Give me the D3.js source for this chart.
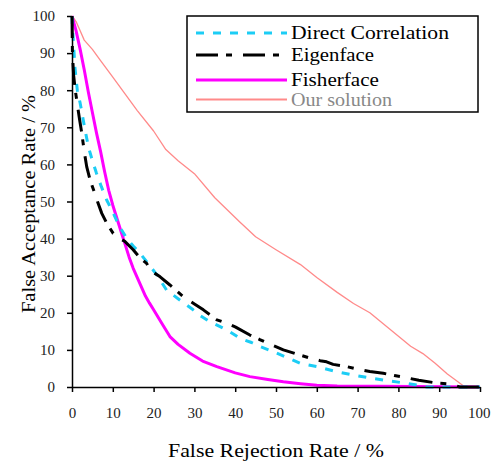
<!DOCTYPE html>
<html><head><meta charset="utf-8">
<script src="https://cdn.jsdelivr.net/npm/d3@7"></script>
<style>body{margin:0;background:#fff}svg{display:block}
svg text{font-family:"Liberation Serif","Tinos","Times New Roman","DejaVu Serif","Noto Serif",serif;}</style>
</head><body>
<svg id="c" width="491" height="463"></svg>
<script>
const xTicks = [0,10,20,30,40,50,60,70,80,90,100];
const yTicks = [0,10,20,30,40,50,60,70,80,90,100];
const seriesNames = ["Direct Correlation","Eigenface","Fisherface","Our solution"];

const directX = [0,0.1,0.3,0.7,1.3,2,3,4,5,6,7.2,8.5,9.7,10.9,12,13.4,15,16.7,18.5,20.8,23.2,26,29.7,31.5,33.8,37.9,41.2,44,46.1,50,55.9,60,64.9,70,73.8,78,82,85.3,87,100];
const directY = [100,97,94,86.3,80,76.5,70.5,64.8,61,57.6,54,50.4,47.8,45,42.6,40.1,38,36,33.5,30.2,26.1,23.8,20.8,19.2,17.6,15.4,13.1,12,10.9,9.2,6.4,5.5,4.1,3,2.3,1.6,1,0.4,0,0];

const eigenX = [0,0.1,0.4,0.8,1.15,1.8,2.4,3,3.6,4.5,5.6,6.4,7.3,8.5,10.1,11.5,13,15,16.5,18.3,19.1,21.6,24,27.3,30,32.2,35.5,37.9,40,43.6,46,48,51.8,55,58,60.8,62.4,64,67.3,70,73,76.3,79,82,85,88.6,90,92.6,94,95,100];
const eigenY = [100,90,84,80,77.4,72.5,68.4,63.5,59.4,55.5,52.2,49.5,46.8,44.2,41.4,40.2,39.2,37,35,33.3,31.5,29.7,27.5,24.3,22.4,20.8,18.1,17.2,16.2,14,12.8,11.8,10,8.9,7.9,7.1,6.8,6.1,5.5,4.8,4.2,3.7,3.1,2.5,1.8,1.2,1,0.8,0.4,0,0];

const fisherX = [0,1,2,3,4,5,6,7,8,9,10,11,12,13,14,15,16,17,18,19,20,22,24,26,28.9,32,35.5,40,43.6,48,51.8,56,60,65,75,100];
const fisherY = [100,96,91,85.5,79.5,74,68.5,63.5,58,53,49,45.5,42,38.5,35,32,29.5,27,24.5,22.6,20.8,17.2,13.6,11.5,9.1,7,5.5,3.8,2.8,2,1.4,0.9,0.5,0.3,0.2,0];

const oursX = [0,1,2,3,5,7,10,13,16,20,23,26,30,35,41,45,50,56,60,65,69,73,78,83,86,89,92,94.5,96.3,100];
const oursY = [100,98.5,96,93.5,91,88,83.5,79,74.5,69,64,61,57.5,51,44.6,40.5,37,33,29.5,25.5,22.5,20,15.5,11,9,6.4,3.5,1.5,0,0];

const svg = d3.select("#c");
const m = {l:72, r:480, t:16, b:387};
const x = d3.scaleLinear().domain([0,100]).range([m.l, m.r]);
const y = d3.scaleLinear().domain([0,100]).range([m.b, m.t]);

const styles = [
  {color:"#1ccdf5", width:3, dash:"8,9", xs:directX, ys:directY},
  {color:"#000000", width:3, dash:"22,8,6,11", xs:eigenX, ys:eigenY},
  {color:"#ff00ff", width:3, dash:null, xs:fisherX, ys:fisherY},
  {color:"#ff8a8a", width:1.3, dash:null, xs:oursX, ys:oursY}
];

const line = d3.line().x(d=>x(d[0])).y(d=>y(d[1]));
[3,2,0,1].forEach(i=>{
  const s = styles[i];
  const data = s.xs.map((v,k)=>[v, s.ys[k]]);
  svg.append("path").datum(data).attr("d", line)
    .attr("fill","none").attr("stroke", s.color).attr("stroke-width", s.width)
    .attr("stroke-dasharray", s.dash).attr("stroke-linejoin","round");
});

const xAxis = svg.append("g").attr("transform",`translate(0,${m.b})`)
  .call(d3.axisBottom(x).tickValues(xTicks).tickSize(5).tickPadding(15).tickSizeOuter(0));
const yAxis = svg.append("g").attr("transform",`translate(${m.l},0)`)
  .call(d3.axisLeft(y).tickValues(yTicks).tickSize(5).tickPadding(12).tickSizeOuter(0));
[xAxis,yAxis].forEach(a=>{
  a.attr("font-family",null);
  a.select(".domain").attr("stroke","#000").attr("stroke-width",1.5);
  a.selectAll(".tick line").attr("stroke","#000").attr("stroke-width",1.5);
  a.selectAll("text").attr("font-size",15).attr("fill","#222");
});
xAxis.selectAll(".tick text").filter(d=>d===100).attr("text-anchor","end").attr("x",10);

svg.append("text").attr("x",276).attr("y",457).attr("text-anchor","middle")
  .attr("font-size",19).attr("textLength",216).attr("lengthAdjust","spacingAndGlyphs")
  .text("False Rejection Rate / %");
svg.append("text").attr("transform","translate(35,204) rotate(-90)").attr("text-anchor","middle")
  .attr("font-size",18.5).attr("textLength",218).attr("lengthAdjust","spacingAndGlyphs")
  .text("False Acceptance Rate / %");

svg.append("rect").attr("x",187).attr("y",16).attr("width",291).attr("height",96)
  .attr("fill","#fff").attr("stroke","#000").attr("stroke-width",1.5);
const ly = [33,55,80,99.5];
const textColors = ["#000","#000","#000","#888"];
const textLens = [158,83,88,101];
styles.forEach((s,i)=>{
  svg.append("line").attr("x1",196).attr("x2",287).attr("y1",ly[i]).attr("y2",ly[i])
    .attr("stroke",s.color).attr("stroke-width", i===3?2:s.width).attr("stroke-dasharray",s.dash);
  svg.append("text").attr("x",291).attr("y",ly[i]+6)
    .attr("font-size",18).attr("fill",textColors[i])
    .attr("textLength",textLens[i]).attr("lengthAdjust","spacingAndGlyphs")
    .text(seriesNames[i]);
});
</script>
</body></html>
